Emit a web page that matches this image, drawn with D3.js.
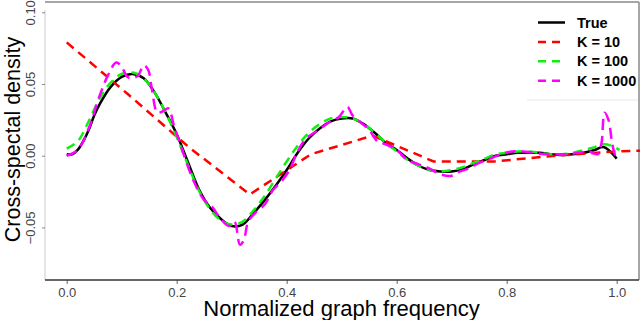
<!DOCTYPE html>
<html>
<head>
<meta charset="utf-8">
<script src="https://cdn.jsdelivr.net/npm/d3@7"></script>
<style>
  html, body { margin: 0; padding: 0; background: #fff; }
  svg { display: block; font-family: "Liberation Sans", Arial, sans-serif; }
</style>
</head>
<body>
<svg id="chart" width="640" height="320"></svg>
<script>
(function () {
  "use strict";

  // data
  var xTicks = [0, 0.2, 0.4, 0.6, 0.8, 1.0];
  var yTicks = [-0.05, 0, 0.05, 0.10];

  var trueCurve = [
    [0.00, 0.001], [0.01, 0.001], [0.02, 0.004], [0.03, 0.010], [0.04, 0.018],
    [0.05, 0.028], [0.06, 0.036], [0.08, 0.048], [0.10, 0.055], [0.12, 0.057],
    [0.14, 0.054], [0.16, 0.044], [0.18, 0.030], [0.20, 0.015], [0.22, -0.004],
    [0.24, -0.023], [0.26, -0.036], [0.28, -0.044], [0.30, -0.049], [0.32, -0.048],
    [0.34, -0.040], [0.36, -0.031], [0.38, -0.021], [0.40, -0.010], [0.42, 0.002],
    [0.44, 0.012], [0.46, 0.019], [0.48, 0.024], [0.50, 0.026], [0.52, 0.026],
    [0.54, 0.022], [0.56, 0.016], [0.58, 0.009], [0.60, 0.004], [0.62, -0.002],
    [0.64, -0.007], [0.66, -0.010], [0.68, -0.011], [0.70, -0.011], [0.72, -0.0095],
    [0.74, -0.006], [0.76, -0.003], [0.78, 0.000], [0.80, 0.001], [0.82, 0.002],
    [0.84, 0.002], [0.86, 0.002], [0.88, 0.001], [0.90, 0.0005], [0.92, 0.001],
    [0.94, 0.002], [0.96, 0.004], [0.976, 0.006], [1.0, -0.002]
  ];

  var k10 = [
    [0, 0.079], [0.111, 0.043], [0.222, 0.006], [0.333, -0.027], [0.444, 0.001],
    [0.556, 0.014], [0.667, -0.004], [0.778, -0.004], [0.889, 0.000], [1.0, 0.003],
    [1.045, 0.0035]
  ];

  var k100 = [
    [0.00, 0.005], [0.02, 0.010], [0.04, 0.024], [0.06, 0.040], [0.08, 0.051],
    [0.10, 0.057], [0.12, 0.058], [0.14, 0.054], [0.16, 0.044], [0.18, 0.030],
    [0.20, 0.013], [0.22, -0.006], [0.24, -0.024], [0.26, -0.037], [0.28, -0.045],
    [0.30, -0.048], [0.32, -0.046], [0.34, -0.038], [0.36, -0.028], [0.38, -0.016],
    [0.40, -0.004], [0.42, 0.007], [0.44, 0.016], [0.46, 0.022], [0.48, 0.026],
    [0.50, 0.027], [0.52, 0.026], [0.54, 0.022], [0.56, 0.016], [0.58, 0.009],
    [0.60, 0.003], [0.62, -0.003], [0.64, -0.007], [0.66, -0.010], [0.68, -0.011],
    [0.70, -0.010], [0.72, -0.008], [0.74, -0.005], [0.76, -0.002], [0.78, 0.001],
    [0.80, 0.002], [0.82, 0.003], [0.84, 0.003], [0.86, 0.002], [0.88, 0.001],
    [0.90, 0.001], [0.92, 0.002], [0.94, 0.004], [0.96, 0.006], [0.975, 0.008],
    [0.99, 0.007], [1.005, 0.004]
  ];

  var k1000 = [
    [0.00, 0.000], [0.02, 0.004], [0.04, 0.019], [0.06, 0.042], [0.075, 0.056],
    [0.09, 0.065], [0.10, 0.062], [0.11, 0.055], [0.12, 0.054], [0.13, 0.056],
    [0.14, 0.063], [0.148, 0.060], [0.155, 0.046], [0.165, 0.030], [0.175, 0.031],
    [0.185, 0.033], [0.195, 0.021], [0.21, 0.004], [0.23, -0.017], [0.25, -0.031],
    [0.265, -0.036], [0.28, -0.044], [0.295, -0.049], [0.305, -0.046], [0.315, -0.062],
    [0.322, -0.059], [0.33, -0.046], [0.345, -0.039], [0.36, -0.034], [0.375, -0.024],
    [0.39, -0.018], [0.405, -0.010], [0.42, 0.003], [0.435, 0.012], [0.45, 0.016],
    [0.465, 0.020], [0.48, 0.024], [0.495, 0.027], [0.51, 0.034], [0.52, 0.028],
    [0.535, 0.023], [0.55, 0.018], [0.565, 0.010], [0.58, 0.008], [0.60, 0.004],
    [0.62, -0.003], [0.64, -0.006], [0.66, -0.009], [0.68, -0.013], [0.70, -0.014],
    [0.715, -0.011], [0.73, -0.009], [0.75, -0.005], [0.77, -0.002], [0.79, 0.001],
    [0.81, 0.003], [0.83, 0.003], [0.85, 0.002], [0.87, 0.001], [0.89, 0.001],
    [0.91, 0.001], [0.93, 0.002], [0.95, 0.003], [0.965, 0.001], [0.972, 0.008],
    [0.978, 0.030], [0.985, 0.025], [0.992, 0.008], [1.0, -0.004]
  ];

  var legendLabels = ["True", "K = 10", "K = 100", "K = 1000"];
  var legendColors = ["#000000", "#ff0000", "#11ee11", "#ff00ff"];

  // layout
  var svg = d3.select("#chart");
  var frame = { left: 45, top: 2, right: 639, bottom: 280 };

  var x = d3.scaleLinear().domain([0, 1]).range([66.7, 616.7]);
  var y = d3.scaleLinear().domain([-0.05, 0.10]).range([227.4, 12.3]);

  // frame (R style box with uneven greys)
  svg.append("line").attr("x1", frame.left).attr("x2", frame.right)
      .attr("y1", frame.top).attr("y2", frame.top)
      .attr("stroke", "#888").attr("stroke-width", 1.5);
  svg.append("line").attr("x1", frame.right).attr("x2", frame.right)
      .attr("y1", frame.top).attr("y2", frame.bottom)
      .attr("stroke", "#888").attr("stroke-width", 1.5);
  svg.append("line").attr("x1", frame.left).attr("x2", frame.left)
      .attr("y1", frame.top + 8).attr("y2", frame.bottom)
      .attr("stroke", "#ccc").attr("stroke-width", 1);

  // axes
  var xAxis = svg.append("g")
      .attr("transform", "translate(0," + frame.bottom + ")")
      .call(d3.axisBottom(x).tickValues(xTicks).tickSize(4).tickPadding(4)
        .tickFormat(d3.format(".1f")));
  xAxis.select(".domain").remove();
  xAxis.append("line").attr("x1", frame.left).attr("x2", frame.right)
      .attr("stroke", "#333").attr("stroke-width", 1.5);
  xAxis.selectAll(".tick line").attr("stroke", "#666");
  xAxis.selectAll(".tick text")
      .attr("y", 17).attr("dy", 0)
      .attr("fill", "#444").style("font-size", "13px");

  var yAxis = svg.append("g")
      .attr("transform", "translate(" + frame.left + ",0)")
      .call(d3.axisLeft(y).tickValues(yTicks).tickSize(3)
        .tickFormat(d3.format(".2f")));
  yAxis.select(".domain").remove();
  yAxis.selectAll(".tick line").attr("stroke", "#888");
  yAxis.selectAll(".tick text")
      .attr("transform", "rotate(-90)")
      .attr("x", 0).attr("y", -10).attr("dy", 0)
      .attr("text-anchor", "middle")
      .attr("fill", "#444").style("font-size", "13px");

  // axis titles
  svg.append("text")
      .attr("x", 341.5).attr("y", 315.5)
      .attr("text-anchor", "middle")
      .style("font-size", "22px")
      .text("Normalized graph frequency");

  svg.append("text")
      .attr("transform", "translate(19.5,139.5) rotate(-90)")
      .attr("text-anchor", "middle")
      .style("font-size", "21.5px")
      .text("Cross-spectal density");

  // curves
  var smooth = d3.line()
      .x(function (d) { return x(d[0]); })
      .y(function (d) { return y(d[1]); })
      .curve(d3.curveCatmullRom.alpha(0.5));
  var straight = d3.line()
      .x(function (d) { return x(d[0]); })
      .y(function (d) { return y(d[1]); });

  svg.append("path").datum(trueCurve)
      .attr("d", smooth).attr("fill", "none")
      .attr("stroke", legendColors[0]).attr("stroke-width", 2.5);
  svg.append("path").datum(k10)
      .attr("d", straight).attr("fill", "none")
      .attr("stroke", legendColors[1]).attr("stroke-width", 2.5)
      .attr("stroke-dasharray", "9,6");
  svg.append("path").datum(k100)
      .attr("d", smooth).attr("fill", "none")
      .attr("stroke", legendColors[2]).attr("stroke-width", 2.5)
      .attr("stroke-dasharray", "9,6");
  svg.append("path").datum(k1000)
      .attr("d", smooth).attr("fill", "none")
      .attr("stroke", legendColors[3]).attr("stroke-width", 2.5)
      .attr("stroke-dasharray", "11,6");

  // legend
  svg.append("line").attr("x1", 527).attr("x2", frame.right - 1)
      .attr("y1", 100).attr("y2", 100)
      .attr("stroke", "#e6e6e6").attr("stroke-width", 1);

  var rows = svg.append("g").selectAll("g")
      .data(legendLabels)
    .enter().append("g")
      .attr("transform", function (d, i) { return "translate(0," + (22.5 + i * 19.4) + ")"; });
  rows.append("line")
      .attr("x1", 538).attr("x2", 565)
      .attr("stroke", function (d, i) { return legendColors[i]; })
      .attr("stroke-width", 2.5)
      .attr("stroke-dasharray", function (d, i) { return i === 0 ? null : "8,6"; });
  rows.append("text")
      .attr("x", 577).attr("dy", "0.35em")
      .style("font-size", "14.5px")
      .style("font-weight", "bold")
      .text(function (d) { return d; });
}());
</script>
</body>
</html>
